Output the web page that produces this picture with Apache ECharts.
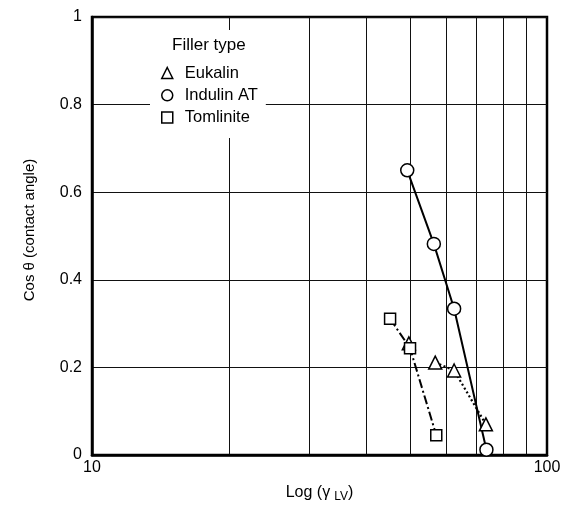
<!DOCTYPE html>
<html>
<head>
<meta charset="utf-8">
<script src="https://cdn.jsdelivr.net/npm/echarts@6/dist/echarts.min.js"></script>
<style>html,body{margin:0;padding:0;background:#fff;}#c{width:569px;height:508px;}</style>
</head>
<body>
<div id="c"></div>
<script>
// Data
const eukalinX = [49.7, 56.8, 62.5, 73.4];
const eukalinY = [0.255, 0.211, 0.193, 0.07];
const indulinX = [49.3, 56.4, 62.5, 73.6];
const indulinY = [0.65, 0.482, 0.334, 0.012];
const tomliniteX = [45.2, 50.0, 57.1];
const tomliniteY = [0.311, 0.244, 0.045];
const minorGridX = [20, 30, 40, 50, 60, 70, 80, 90];
const legendNames = ['Eukalin', 'Indulin AT', 'Tomlinite'];

const pairs = (xs, ys) => xs.map((x, i) => [x, ys[i]]);
const FONT = '"Liberation Sans", Arial, Helvetica, sans-serif';
const markerStyle = { color: '#fff', borderColor: '#000', borderWidth: 1.5, opacity: 1 };

const chart = echarts.init(document.getElementById('c'), null, { renderer: 'canvas' });
chart.setOption({
  animation: false,
  backgroundColor: '#fff',
  textStyle: { fontFamily: FONT, color: '#000' },
  title: {
    text: 'Filler type',
    left: 172, top: 37, padding: 0, z: 12,
    textStyle: { fontFamily: FONT, fontSize: 17, fontWeight: 'normal', color: '#000' }
  },
  legend: {
    orient: 'vertical',
    left: 150, top: 30, z: 10,
    padding: [34.5, 8, 12, 11],
    backgroundColor: '#fff',
    itemWidth: 11, itemHeight: 11,
    itemGap: 5.3,
    selectedMode: false,
    itemStyle: { color: '#fff', borderColor: '#000', borderWidth: 1.5, opacity: 1 },
    textStyle: { fontFamily: FONT, fontSize: 16.5, color: '#000', lineHeight: 16, padding: [0, 0, 0, 7] },
    data: [
      { name: legendNames[0], icon: 'triangle' },
      { name: legendNames[1], icon: 'circle' },
      { name: legendNames[2], icon: 'rect' }
    ]
  },
  grid: {
    left: 92, right: 22, top: 17, bottom: 51,
    show: true, borderColor: '#000', borderWidth: 2.5, backgroundColor: 'transparent'
  },
  xAxis: {
    type: 'log', logBase: 10, min: 10, max: 100,
    name: '{a|Log (γ}{s|LV}{a|)}',
    nameLocation: 'middle', nameGap: 28,
    nameTextStyle: {
      rich: {
        a: { fontFamily: FONT, fontSize: 16, color: '#000', lineHeight: 20 },
        s: { fontFamily: FONT, fontSize: 12, color: '#000', padding: [8, 0, 0, 4] }
      }
    },
    axisLine: { show: true, lineStyle: { color: '#000', width: 2.5 } },
    axisTick: { show: false },
    axisLabel: { fontFamily: FONT, fontSize: 16, color: '#000', margin: 5 },
    splitLine: { show: false },
    minorTick: { show: false },
    minorSplitLine: { show: false }
  },
  yAxis: {
    type: 'value', min: 0, max: 1, interval: 0.2,
    name: 'Cos θ (contact angle)',
    nameLocation: 'middle', nameGap: 55,
    nameTextStyle: { fontFamily: FONT, fontSize: 15, color: '#000', padding: [0, 0, 0, 12] },
    axisLine: { show: true, lineStyle: { color: '#000', width: 2.5 } },
    axisTick: { show: false },
    axisLabel: { fontFamily: FONT, fontSize: 16, color: '#000', margin: 10 },
    splitLine: { show: true, lineStyle: { color: '#111', width: 1 } }
  },
  series: [
    {
      name: 'grid-minor', type: 'line', data: [], silent: true, z: 0,
      markLine: {
        silent: true, symbol: 'none', animation: false, z: 0,
        label: { show: false },
        lineStyle: { color: '#111', width: 1, type: 'solid' },
        data: minorGridX.map(v => ({ xAxis: v }))
      }
    },
    {
      name: 'Indulin line', type: 'line', data: pairs(indulinX, indulinY),
      showSymbol: false, symbol: 'none', z: 3,
      lineStyle: { color: '#000', width: 2, type: 'solid' }
    },
    {
      name: 'Eukalin line', type: 'line', data: pairs(eukalinX, eukalinY).slice(1),
      showSymbol: false, symbol: 'none', z: 3,
      lineStyle: { color: '#000', width: 2.2, type: [2, 2.5] }
    },
    {
      name: 'Tomlinite line', type: 'line', data: pairs(tomliniteX, tomliniteY),
      showSymbol: false, symbol: 'none', z: 3,
      lineStyle: { color: '#000', width: 2, type: [9, 3, 2, 3] }
    },
    {
      name: legendNames[0], type: 'scatter', data: pairs(eukalinX, eukalinY),
      symbol: 'triangle', symbolSize: 13, z: 5, itemStyle: markerStyle
    },
    {
      name: legendNames[1], type: 'scatter', data: pairs(indulinX, indulinY),
      symbol: 'circle', symbolSize: 13, z: 5, itemStyle: markerStyle
    },
    {
      name: legendNames[2], type: 'scatter', data: pairs(tomliniteX, tomliniteY),
      symbol: 'rect', symbolSize: 11, z: 5, itemStyle: markerStyle
    }
  ]
});
</script>
</body>
</html>
